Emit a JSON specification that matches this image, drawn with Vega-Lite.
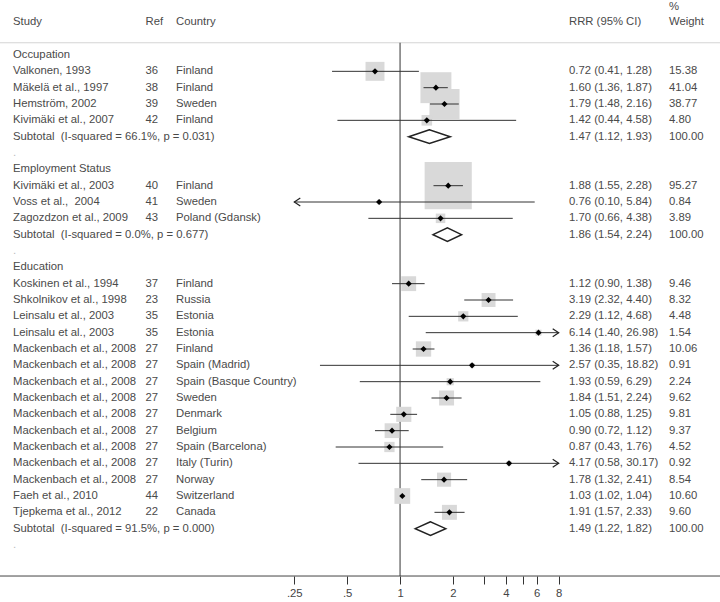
{
  "$schema": "https://vega.github.io/schema/vega-lite/v6.json",
  "width": 720,
  "height": 602,
  "autosize": "none",
  "padding": 0,
  "background": "white",
  "config": {"view": {"stroke": null}, "font": "Liberation Sans"},
  "data": {"values": [
    {"row": -2.95, "type": "header", "wt": "%"},
    {"row": -2, "type": "header", "study": "Study", "ref": "Ref", "country": "Country", "ci": "RRR (95% CI)", "wt": "Weight"},
    {"row": 0, "type": "head", "study": "Occupation"},
    {"row": 1, "type": "study", "study": "Valkonen, 1993", "ref": "36", "country": "Finland", "est": 0.72, "lo": 0.41, "hi": 1.28, "weight": 15.38, "ci": "0.72 (0.41, 1.28)", "wt": "15.38"},
    {"row": 2, "type": "study", "study": "Mäkelä et al., 1997", "ref": "38", "country": "Finland", "est": 1.60, "lo": 1.36, "hi": 1.87, "weight": 41.04, "ci": "1.60 (1.36, 1.87)", "wt": "41.04"},
    {"row": 3, "type": "study", "study": "Hemström, 2002", "ref": "39", "country": "Sweden", "est": 1.79, "lo": 1.48, "hi": 2.16, "weight": 38.77, "ci": "1.79 (1.48, 2.16)", "wt": "38.77"},
    {"row": 4, "type": "study", "study": "Kivimäki et al., 2007", "ref": "42", "country": "Finland", "est": 1.42, "lo": 0.44, "hi": 4.58, "weight": 4.80, "ci": "1.42 (0.44, 4.58)", "wt": "4.80"},
    {"row": 5, "type": "sub", "study": "Subtotal \u00a0(I-squared = 66.1%, p = 0.031)", "est": 1.47, "lo": 1.12, "hi": 1.93, "ci": "1.47 (1.12, 1.93)", "wt": "100.00"},
    {"row": 6, "type": "dot", "study": "."},
    {"row": 7, "type": "head", "study": "Employment Status"},
    {"row": 8, "type": "study", "study": "Kivimäki et al., 2003", "ref": "40", "country": "Finland", "est": 1.88, "lo": 1.55, "hi": 2.28, "weight": 95.27, "ci": "1.88 (1.55, 2.28)", "wt": "95.27"},
    {"row": 9, "type": "study", "study": "Voss et al., \u00a02004", "ref": "41", "country": "Sweden", "est": 0.76, "lo": 0.10, "hi": 5.84, "weight": 0.84, "ci": "0.76 (0.10, 5.84)", "wt": "0.84"},
    {"row": 10, "type": "study", "study": "Zagozdzon et al., 2009", "ref": "43", "country": "Poland (Gdansk)", "est": 1.70, "lo": 0.66, "hi": 4.38, "weight": 3.89, "ci": "1.70 (0.66, 4.38)", "wt": "3.89"},
    {"row": 11, "type": "sub", "study": "Subtotal \u00a0(I-squared = 0.0%, p = 0.677)", "est": 1.86, "lo": 1.54, "hi": 2.24, "ci": "1.86 (1.54, 2.24)", "wt": "100.00"},
    {"row": 12, "type": "dot", "study": "."},
    {"row": 13, "type": "head", "study": "Education"},
    {"row": 14, "type": "study", "study": "Koskinen et al., 1994", "ref": "37", "country": "Finland", "est": 1.12, "lo": 0.90, "hi": 1.38, "weight": 9.46, "ci": "1.12 (0.90, 1.38)", "wt": "9.46"},
    {"row": 15, "type": "study", "study": "Shkolnikov et al., 1998", "ref": "23", "country": "Russia", "est": 3.19, "lo": 2.32, "hi": 4.40, "weight": 8.32, "ci": "3.19 (2.32, 4.40)", "wt": "8.32"},
    {"row": 16, "type": "study", "study": "Leinsalu et al., 2003", "ref": "35", "country": "Estonia", "est": 2.29, "lo": 1.12, "hi": 4.68, "weight": 4.48, "ci": "2.29 (1.12, 4.68)", "wt": "4.48"},
    {"row": 17, "type": "study", "study": "Leinsalu et al., 2003", "ref": "35", "country": "Estonia", "est": 6.14, "lo": 1.40, "hi": 26.98, "weight": 1.54, "ci": "6.14 (1.40, 26.98)", "wt": "1.54"},
    {"row": 18, "type": "study", "study": "Mackenbach et al., 2008", "ref": "27", "country": "Finland", "est": 1.36, "lo": 1.18, "hi": 1.57, "weight": 10.06, "ci": "1.36 (1.18, 1.57)", "wt": "10.06"},
    {"row": 19, "type": "study", "study": "Mackenbach et al., 2008", "ref": "27", "country": "Spain (Madrid)", "est": 2.57, "lo": 0.35, "hi": 18.82, "weight": 0.91, "ci": "2.57 (0.35, 18.82)", "wt": "0.91"},
    {"row": 20, "type": "study", "study": "Mackenbach et al., 2008", "ref": "27", "country": "Spain (Basque Country)", "est": 1.93, "lo": 0.59, "hi": 6.29, "weight": 2.24, "ci": "1.93 (0.59, 6.29)", "wt": "2.24"},
    {"row": 21, "type": "study", "study": "Mackenbach et al., 2008", "ref": "27", "country": "Sweden", "est": 1.84, "lo": 1.51, "hi": 2.24, "weight": 9.62, "ci": "1.84 (1.51, 2.24)", "wt": "9.62"},
    {"row": 22, "type": "study", "study": "Mackenbach et al., 2008", "ref": "27", "country": "Denmark", "est": 1.05, "lo": 0.88, "hi": 1.25, "weight": 9.81, "ci": "1.05 (0.88, 1.25)", "wt": "9.81"},
    {"row": 23, "type": "study", "study": "Mackenbach et al., 2008", "ref": "27", "country": "Belgium", "est": 0.90, "lo": 0.72, "hi": 1.12, "weight": 9.37, "ci": "0.90 (0.72, 1.12)", "wt": "9.37"},
    {"row": 24, "type": "study", "study": "Mackenbach et al., 2008", "ref": "27", "country": "Spain (Barcelona)", "est": 0.87, "lo": 0.43, "hi": 1.76, "weight": 4.52, "ci": "0.87 (0.43, 1.76)", "wt": "4.52"},
    {"row": 25, "type": "study", "study": "Mackenbach et al., 2008", "ref": "27", "country": "Italy (Turin)", "est": 4.17, "lo": 0.58, "hi": 30.17, "weight": 0.92, "ci": "4.17 (0.58, 30.17)", "wt": "0.92"},
    {"row": 26, "type": "study", "study": "Mackenbach et al., 2008", "ref": "27", "country": "Norway", "est": 1.78, "lo": 1.32, "hi": 2.41, "weight": 8.54, "ci": "1.78 (1.32, 2.41)", "wt": "8.54"},
    {"row": 27, "type": "study", "study": "Faeh et al., 2010", "ref": "44", "country": "Switzerland", "est": 1.03, "lo": 1.02, "hi": 1.04, "weight": 10.60, "ci": "1.03 (1.02, 1.04)", "wt": "10.60"},
    {"row": 28, "type": "study", "study": "Tjepkema et al., 2012", "ref": "22", "country": "Canada", "est": 1.91, "lo": 1.57, "hi": 2.33, "weight": 9.60, "ci": "1.91 (1.57, 2.33)", "wt": "9.60"},
    {"row": 29, "type": "sub", "study": "Subtotal \u00a0(I-squared = 91.5%, p = 0.000)", "est": 1.49, "lo": 1.22, "hi": 1.82, "ci": "1.49 (1.22, 1.82)", "wt": "100.00"},
    {"row": 30, "type": "dot", "study": "."}
  ]},
  "layer": [
    {
      "layer": [
        {
          "data": {"values": [{}]},
          "mark": {"type": "rule", "color": "#d4d4d4", "strokeWidth": 1},
          "encoding": {
            "y": {"datum": -0.75, "type": "quantitative", "scale": {"domain": [-3.368, 33.49], "reverse": true, "nice": false, "zero": false}, "axis": null}
          }
        },
        {
          "data": {"values": [{}]},
          "mark": {"type": "rule", "color": "#444", "strokeWidth": 1},
          "encoding": {"y": {"datum": 31.9, "type": "quantitative"}}
        },
        {
          "data": {"values": [{}]},
          "mark": {"type": "rule", "color": "#333", "strokeWidth": 1},
          "encoding": {
            "x": {"datum": 1, "type": "quantitative",
              "scale": {"type": "log", "domain": [0.25, 8], "range": [294.3, 558.7], "clamp": true, "nice": false},
              "axis": {"values": [0.25, 0.5, 1, 2, 3, 4, 5, 6, 8], "offset": -26, "domain": false, "grid": false, "title": null,
                "tickSize": 8, "tickColor": "#333", "tickWidth": 1, "labelPadding": 3, "labelFontSize": 11.3, "labelColor": "#444",
                "labelFont": "Liberation Sans", "labelFlush": false, "labelOverlap": false,
                "labelExpr": "datum.value == 0.25 ? '.25' : datum.value == 0.5 ? '.5' : (datum.value == 3 || datum.value == 5) ? '' : datum.label"}},
            "y": {"datum": -0.75, "type": "quantitative"},
            "y2": {"datum": 31.9}
          }
        },
        {
          "transform": [{"filter": "datum.type === 'study'"}],
          "mark": {"type": "point", "shape": "square", "filled": true, "color": "#d9d9d9", "opacity": 1, "strokeWidth": 0},
          "encoding": {
            "x": {"field": "est", "type": "quantitative"},
            "y": {"field": "row", "type": "quantitative"},
            "size": {"field": "weight", "type": "quantitative", "scale": {"type": "linear", "domain": [0, 100], "range": [0, 2333], "zero": true}, "legend": null}
          }
        },
        {
          "transform": [{"filter": "datum.type === 'study'"}],
          "mark": {"type": "rule", "color": "#333", "strokeWidth": 1},
          "encoding": {
            "x": {"field": "lo", "type": "quantitative"},
            "x2": {"field": "hi"},
            "y": {"field": "row", "type": "quantitative"}
          }
        },
        {
          "transform": [{"filter": "datum.type === 'study' && datum.lo < 0.25"}],
          "mark": {"type": "point", "shape": "M 1.5 -1 L 0 0 L 1.5 1", "filled": false, "color": "#222", "strokeWidth": 1.2, "opacity": 1, "size": 64},
          "encoding": {
            "x": {"field": "lo", "type": "quantitative"},
            "y": {"field": "row", "type": "quantitative"}
          }
        },
        {
          "transform": [{"filter": "datum.type === 'study' && datum.hi > 8"}],
          "mark": {"type": "point", "shape": "M -1.5 -1 L 0 0 L -1.5 1", "filled": false, "color": "#222", "strokeWidth": 1.2, "opacity": 1, "size": 64},
          "encoding": {
            "x": {"field": "hi", "type": "quantitative"},
            "y": {"field": "row", "type": "quantitative"}
          }
        },
        {
          "transform": [{"filter": "datum.type === 'study'"}],
          "mark": {"type": "point", "shape": "diamond", "filled": true, "color": "#000", "opacity": 1, "size": 38},
          "encoding": {
            "x": {"field": "est", "type": "quantitative"},
            "y": {"field": "row", "type": "quantitative"}
          }
        },
        {
          "transform": [
            {"filter": "datum.type === 'sub'"},
            {"calculate": "[0, 1, 2, 3, 4, 5]", "as": "vi"},
            {"flatten": ["vi"]},
            {"calculate": "(datum.vi == 0 || datum.vi == 4) ? datum.lo : datum.vi == 2 ? datum.hi : datum.est", "as": "vx"},
            {"calculate": "datum.row + ((datum.vi == 1 || datum.vi == 5) ? -0.42 : datum.vi == 3 ? 0.42 : 0)", "as": "vy"}
          ],
          "mark": {"type": "line", "color": "#222", "strokeWidth": 1.5, "strokeJoin": "miter"},
          "encoding": {
            "x": {"field": "vx", "type": "quantitative"},
            "y": {"field": "vy", "type": "quantitative"},
            "detail": {"field": "row"},
            "order": {"field": "vi"}
          }
        }
      ]
    },
    {
      "transform": [
        {"fold": ["study", "ref", "country", "ci", "wt"], "as": ["col", "txt"]},
        {"filter": "isValid(datum.txt) && datum.txt !== ''"},
        {"calculate": "indexof(['study', 'ref', 'country', 'ci', 'wt'], datum.col)", "as": "ci_idx"}
      ],
      "mark": {"type": "text", "align": "left", "baseline": "middle", "fontSize": 11.3, "font": "Liberation Sans"},
      "encoding": {
        "x": {"field": "ci_idx", "type": "quantitative", "scale": {"domain": [0, 1, 2, 3, 4], "range": [13, 145.5, 176, 569, 669], "nice": false, "zero": false}, "axis": null},
        "y": {"field": "row", "type": "quantitative"},
        "text": {"field": "txt"},
        "color": {"condition": {"test": "datum.txt === '.'", "value": "#bbbbbb"}, "value": "#4a4a4a"}
      }
    }
  ],
  "resolve": {"scale": {"x": "independent"}}
}
